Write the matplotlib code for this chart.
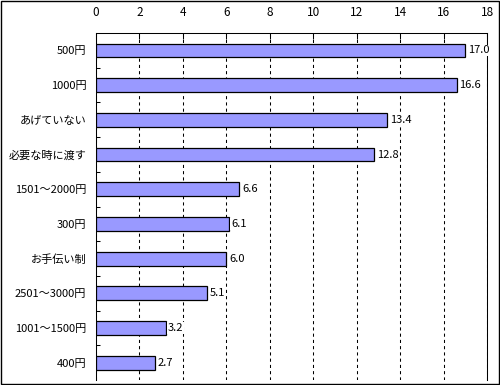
import numpy as np
import matplotlib.pyplot as plt

plt.rcParams['font.family'] = ['Noto Sans CJK JP', 'DejaVu Sans']

# data (top to bottom)
categories = ['500円', '1000円', 'あげていない', '必要な時に渡す', '1501～2000円',
              '300円', 'お手伝い制', '2501～3000円', '1001～1500円', '400円']
values = [17.0, 16.6, 13.4, 12.8, 6.6, 6.1, 6.0, 5.1, 3.2, 2.7]
xticks = [0, 2, 4, 6, 8, 10, 12, 14, 16, 18]

fig = plt.figure(figsize=(5, 3.85), dpi=100)
ax = fig.add_axes([0.192, 0.013, 0.782, 0.901])

y = np.arange(len(categories))
ax.barh(y, values, height=0.4, color='#9999FF', edgecolor='black', linewidth=0.9, zorder=3)

for yi, v in zip(y, values):
    ax.text(v + 0.12, yi, f'{v:.1f}', va='center', ha='left', fontsize=8, zorder=4,
            bbox=dict(facecolor='white', edgecolor='none', pad=0.5))

ax.set_xlim(0, 18)
ax.set_ylim(len(categories) - 0.5, -0.5)
ax.set_xticks(xticks)
ax.xaxis.tick_top()
ax.tick_params(axis='x', direction='in', length=4, pad=10, labelsize=8.5, width=0.75)
ax.set_yticks(y)
ax.set_yticklabels(categories)
ax.set_yticks(np.arange(len(categories) - 1) + 0.5, minor=True)
ax.tick_params(axis='y', which='major', length=0, pad=7, labelsize=8)
ax.tick_params(axis='y', which='minor', direction='in', length=3, width=0.75)

ax.grid(axis='x', color='black', linestyle=(0, (3, 3)), linewidth=0.75, zorder=1)
for s in ax.spines.values():
    s.set_linewidth(0.75)
ax.spines['bottom'].set_visible(False)

# outer border
fig.patches.append(plt.Rectangle((0.001, 0.002), 0.997, 0.996, transform=fig.transFigure,
                                 fill=False, edgecolor='black', linewidth=1))

plt.savefig('out.png', dpi=100)
